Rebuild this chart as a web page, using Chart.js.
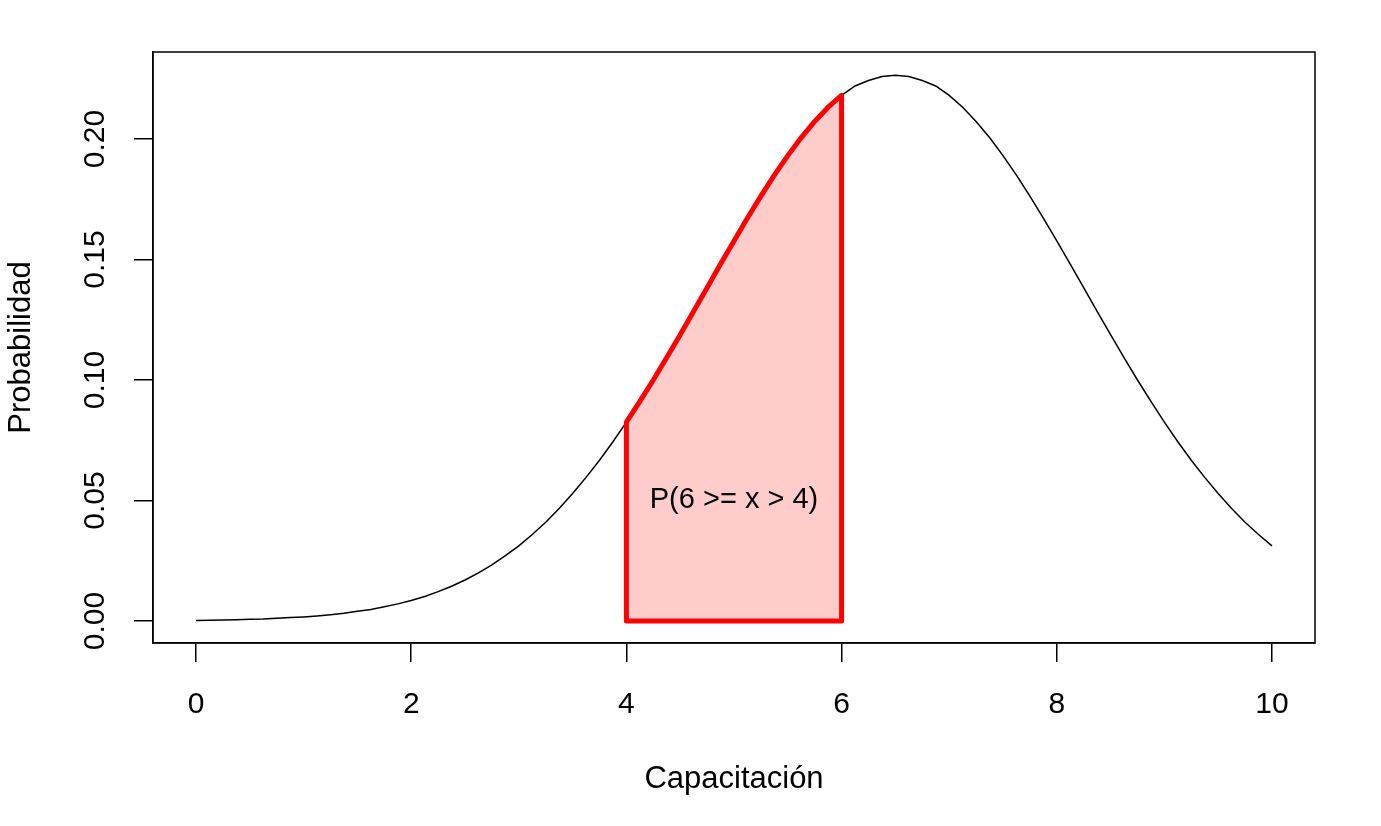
<!DOCTYPE html>
<html>
<head>
<meta charset="utf-8">
<script src="https://cdn.jsdelivr.net/npm/chart.js@4/dist/chart.umd.min.js"></script>
<style>
  body { margin: 0; background: #fff; }
  canvas { display: block; }
</style>
</head>
<body>
<canvas id="densityChart" width="1381" height="826"></canvas>
<script>
// density curve (step 0.125)
const xCurve = [0, 0.125, 0.25, 0.375, 0.5, 0.625, 0.75, 0.875, 1, 1.125, 1.25, 1.375, 1.5, 1.625, 1.75, 1.875,
  2, 2.125, 2.25, 2.375, 2.5, 2.625, 2.75, 2.875, 3, 3.125, 3.25, 3.375, 3.5, 3.625, 3.75, 3.875,
  4, 4.125, 4.25, 4.375, 4.5, 4.625, 4.75, 4.875, 5, 5.125, 5.25, 5.375, 5.5, 5.625, 5.75, 5.875,
  6, 6.125, 6.25, 6.375, 6.5, 6.625, 6.75, 6.875, 7, 7.125, 7.25, 7.375, 7.5, 7.625, 7.75, 7.875,
  8, 8.125, 8.25, 8.375, 8.5, 8.625, 8.75, 8.875, 9, 9.125, 9.25, 9.375, 9.5, 9.625, 9.75, 9.875, 10];
const yCurve = [0.0002, 0.0003, 0.0004, 0.0005, 0.0007, 0.0008, 0.0011, 0.0014, 0.0017, 0.0021, 0.0026, 0.0032, 0.0040, 0.0048, 0.0059, 0.0071,
  0.0085, 0.0102, 0.0122, 0.0144, 0.0170, 0.0200, 0.0233, 0.0271, 0.0312, 0.0359, 0.0410, 0.0467, 0.0529, 0.0596, 0.0667, 0.0744,
  0.0825, 0.0911, 0.1000, 0.1093, 0.1188, 0.1285, 0.1383, 0.1481, 0.1577, 0.1672, 0.1763, 0.1850, 0.1931, 0.2006, 0.2073, 0.2132,
  0.2181, 0.2220, 0.2243, 0.2259, 0.2264, 0.2259, 0.2243, 0.2220, 0.2181, 0.2132, 0.2073, 0.2006, 0.1931, 0.1850, 0.1763, 0.1672,
  0.1577, 0.1481, 0.1383, 0.1285, 0.1188, 0.1093, 0.1000, 0.0911, 0.0825, 0.0744, 0.0667, 0.0596, 0.0529, 0.0467, 0.0410, 0.0359, 0.0312];

// shaded interval
const shadeFrom = 4;
const shadeTo = 6;

const xTicks = [0, 2, 4, 6, 8, 10];
const xTickLabels = ["0", "2", "4", "6", "8", "10"];
const yTicks = [0, 0.05, 0.1, 0.15, 0.2];
const yTickLabels = ["0.00", "0.05", "0.10", "0.15", "0.20"];

const xTitle = "Capacitación";
const yTitle = "Probabilidad";
const annotText = "P(6 >= x > 4)";
const annotX = 5;
const annotY = 0.05;

const fontFamily = "'Liberation Sans', Arial, sans-serif";
const tickFont = { family: fontFamily, size: 30 };
const titleFont = { family: fontFamily, size: 31 };

const curvePoints = xCurve.map((x, i) => ({ x: x, y: yCurve[i] }));

// closed polygon: up at 4, along the curve, down at 6, back along zero
const shadePoints = [{ x: shadeFrom, y: 0 }];
xCurve.forEach((x, i) => {
  if (x >= shadeFrom && x <= shadeTo) shadePoints.push({ x: x, y: yCurve[i] });
});
shadePoints.push({ x: shadeTo, y: 0 });
shadePoints.push({ x: shadeFrom, y: 0 });

const boxPlugin = {
  id: "boxAndText",
  afterDatasetsDraw(chart) {
    const { ctx, chartArea, scales } = chart;
    ctx.save();
    ctx.strokeStyle = "#000";
    ctx.lineWidth = 1.5;
    ctx.strokeRect(chartArea.left, chartArea.top, chartArea.right - chartArea.left, chartArea.bottom - chartArea.top);

    ctx.fillStyle = "#000";
    ctx.font = "29px " + fontFamily;
    ctx.textAlign = "center";
    ctx.textBaseline = "middle";
    ctx.fillText(annotText, scales.x.getPixelForValue(annotX), scales.y.getPixelForValue(annotY));
    ctx.restore();
  },
};

const ctx = document.getElementById("densityChart").getContext("2d");
new Chart(ctx, {
  type: "line",
  data: {
    datasets: [
      {
        label: "shade",
        data: shadePoints,
        borderColor: "#ff0000",
        backgroundColor: "rgba(255, 0, 0, 0.2)",
        borderWidth: 5,
        borderJoinStyle: "round",
        borderCapStyle: "round",
        fill: "shape",
        pointRadius: 0,
        tension: 0,
      },
      {
        label: "density",
        data: curvePoints,
        borderColor: "#000",
        borderWidth: 1.5,
        fill: false,
        pointRadius: 0,
        tension: 0,
      },
    ],
  },
  options: {
    responsive: false,
    animation: false,
    events: [],
    layout: { padding: { left: 0, right: 66, top: 52, bottom: 0 } },
    plugins: {
      legend: { display: false },
      tooltip: { enabled: false },
    },
    scales: {
      x: {
        type: "linear",
        min: -0.4,
        max: 10.4,
        afterBuildTicks: (s) => { s.ticks = xTicks.map((v) => ({ value: v })); },
        afterFit: (s) => { s.height = 183; },
        grid: { drawOnChartArea: false, drawTicks: true, tickLength: 19, color: "#000", lineWidth: 1.5 },
        border: { display: true, color: "#000", width: 1.5 },
        ticks: {
          font: tickFont,
          color: "#000",
          padding: 25,
          minRotation: 0,
          maxRotation: 0,
          autoSkip: false,
          callback: (v, i) => xTickLabels[i],
        },
        title: { display: true, text: xTitle, font: titleFont, color: "#000", padding: { top: 0, bottom: 28.4 } },
      },
      y: {
        type: "linear",
        min: -0.00913,
        max: 0.2361,
        afterBuildTicks: (s) => { s.ticks = yTicks.map((v) => ({ value: v })); },
        afterFit: (s) => { s.width = 153; },
        grid: { drawOnChartArea: false, drawTicks: true, tickLength: 19, color: "#000", lineWidth: 1.5 },
        border: { display: true, color: "#000", width: 1.5 },
        ticks: {
          font: tickFont,
          color: "#000",
          padding: 9,
          minRotation: 90,
          maxRotation: 90,
          crossAlign: "center",
          autoSkip: false,
          callback: (v, i) => yTickLabels[i],
        },
        title: { display: true, text: yTitle, font: titleFont, color: "#000", padding: { top: 2.9, bottom: 0 } },
      },
    },
  },
  plugins: [boxPlugin],
});
</script>
</body>
</html>
